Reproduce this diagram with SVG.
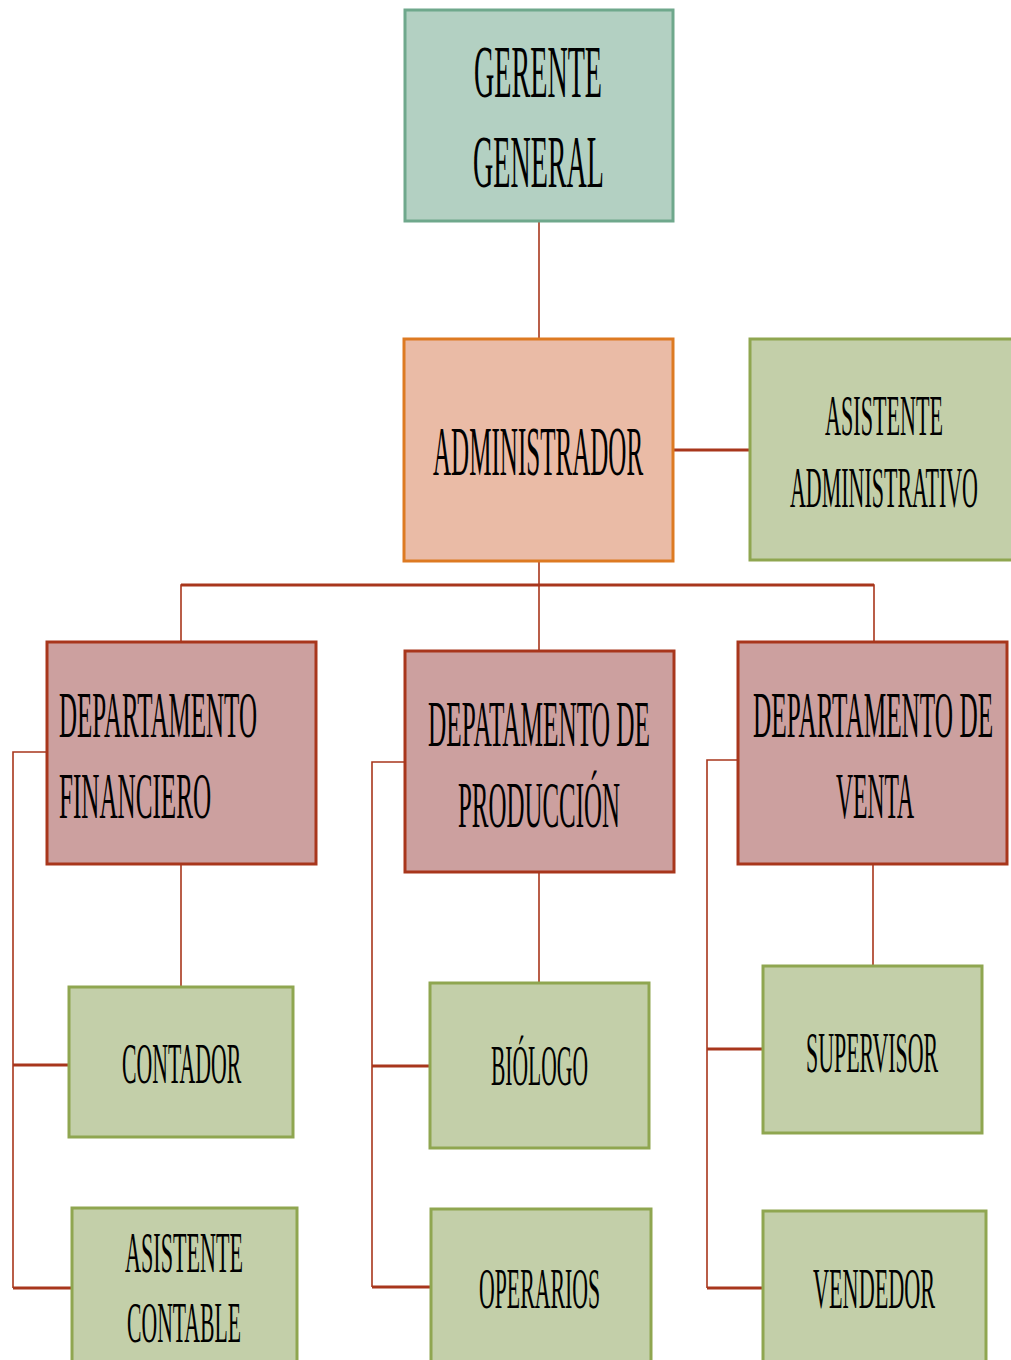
<svg xmlns="http://www.w3.org/2000/svg" width="1011" height="1360" viewBox="0 0 1011 1360">
<style>
text{font-family:"Liberation Serif","Times New Roman",serif;fill:#000;}
.teal{fill:#b3d0c2;stroke:#6fa88c;stroke-width:3;}
.orange{fill:#eabba6;stroke:#dd7a22;stroke-width:3;}
.red{fill:#cca09f;stroke:#a8361c;stroke-width:3;}
.green{fill:#c3cfa9;stroke:#8fa650;stroke-width:3;}
.thin{fill:none;stroke:#a8361c;stroke-width:1.6;}
.thick{fill:none;stroke:#a8361c;stroke-width:3;}
</style>
<rect width="1011" height="1360" fill="#fff"/>
<g id="connectors">
<path class="thin" d="M539 221V339"/>
<path class="thick" d="M674 450H750"/>
<path class="thin" d="M539 561V650M181 642V585H874V642"/>
<path class="thick" d="M181 585H874"/>
<path class="thin" d="M47 752H13V1288M181 865V986"/>
<path class="thick" d="M13 1065H69M13 1288H72"/>
<path class="thin" d="M405 762H372V1287M539 873V983"/>
<path class="thick" d="M372 1066H430M372 1287H431"/>
<path class="thin" d="M738 760H707V1288M873 865V966"/>
<path class="thick" d="M707 1049H763M707 1288H763"/>
</g>
<g id="gerente">
<rect class="teal" x="405" y="10" width="268" height="211"/>
<text transform="matrix(0.37 0 0 1 474 97)" font-size="75" textLength="346" lengthAdjust="spacingAndGlyphs">GERENTE</text>
<text transform="matrix(0.37 0 0 1 473 187)" font-size="75" textLength="354" lengthAdjust="spacingAndGlyphs">GENERAL</text>
</g>
<g id="administrador">
<rect class="orange" x="404" y="339" width="269" height="222"/>
<text transform="matrix(0.37 0 0 1 433 475)" font-size="70" textLength="568" lengthAdjust="spacingAndGlyphs">ADMINISTRADOR</text>
</g>
<g id="asistente-admin">
<rect class="green" x="750" y="339" width="264" height="221"/>
<text transform="matrix(0.37 0 0 1 825 435)" font-size="57" textLength="319" lengthAdjust="spacingAndGlyphs">ASISTENTE</text>
<text transform="matrix(0.37 0 0 1 790 507)" font-size="57" textLength="508" lengthAdjust="spacingAndGlyphs">ADMINISTRATIVO</text>
</g>
<g id="dep-financiero">
<rect class="red" x="47" y="642" width="269" height="222"/>
<text transform="matrix(0.37 0 0 1 59 737)" font-size="66" textLength="535" lengthAdjust="spacingAndGlyphs">DEPARTAMENTO</text>
<text transform="matrix(0.37 0 0 1 59 818)" font-size="66" textLength="411" lengthAdjust="spacingAndGlyphs">FINANCIERO</text>
</g>
<g id="dep-produccion">
<rect class="red" x="405" y="651" width="269" height="221"/>
<text transform="matrix(0.37 0 0 1 428 746)" font-size="66" textLength="600" lengthAdjust="spacingAndGlyphs">DEPATAMENTO DE</text>
<text transform="matrix(0.37 0 0 1 458 827)" font-size="66" textLength="438" lengthAdjust="spacingAndGlyphs">PRODUCCIÓN</text>
</g>
<g id="dep-venta">
<rect class="red" x="738" y="642" width="269" height="222"/>
<text transform="matrix(0.37 0 0 1 753 737)" font-size="66" textLength="649" lengthAdjust="spacingAndGlyphs">DEPARTAMENTO DE</text>
<text transform="matrix(0.37 0 0 1 836 818)" font-size="66" textLength="211" lengthAdjust="spacingAndGlyphs">VENTA</text>
</g>
<g id="contador">
<rect class="green" x="69" y="987" width="224" height="150"/>
<text transform="matrix(0.37 0 0 1 122 1083)" font-size="57" textLength="322" lengthAdjust="spacingAndGlyphs">CONTADOR</text>
</g>
<g id="asistente-contable">
<rect class="green" x="72" y="1208" width="225" height="160"/>
<text transform="matrix(0.37 0 0 1 125 1272)" font-size="57" textLength="319" lengthAdjust="spacingAndGlyphs">ASISTENTE</text>
<text transform="matrix(0.37 0 0 1 127 1342)" font-size="57" textLength="308" lengthAdjust="spacingAndGlyphs">CONTABLE</text>
</g>
<g id="biologo">
<rect class="green" x="430" y="983" width="219" height="165"/>
<text transform="matrix(0.37 0 0 1 491 1085)" font-size="57" textLength="262" lengthAdjust="spacingAndGlyphs">BIÓLOGO</text>
</g>
<g id="operarios">
<rect class="green" x="431" y="1209" width="220" height="160"/>
<text transform="matrix(0.37 0 0 1 479 1308)" font-size="57" textLength="327" lengthAdjust="spacingAndGlyphs">OPERARIOS</text>
</g>
<g id="supervisor">
<rect class="green" x="763" y="966" width="219" height="167"/>
<text transform="matrix(0.37 0 0 1 806 1072)" font-size="57" textLength="357" lengthAdjust="spacingAndGlyphs">SUPERVISOR</text>
</g>
<g id="vendedor">
<rect class="green" x="763" y="1211" width="223" height="160"/>
<text transform="matrix(0.37 0 0 1 813 1308)" font-size="57" textLength="330" lengthAdjust="spacingAndGlyphs">VENDEDOR</text>
</g>
</svg>
